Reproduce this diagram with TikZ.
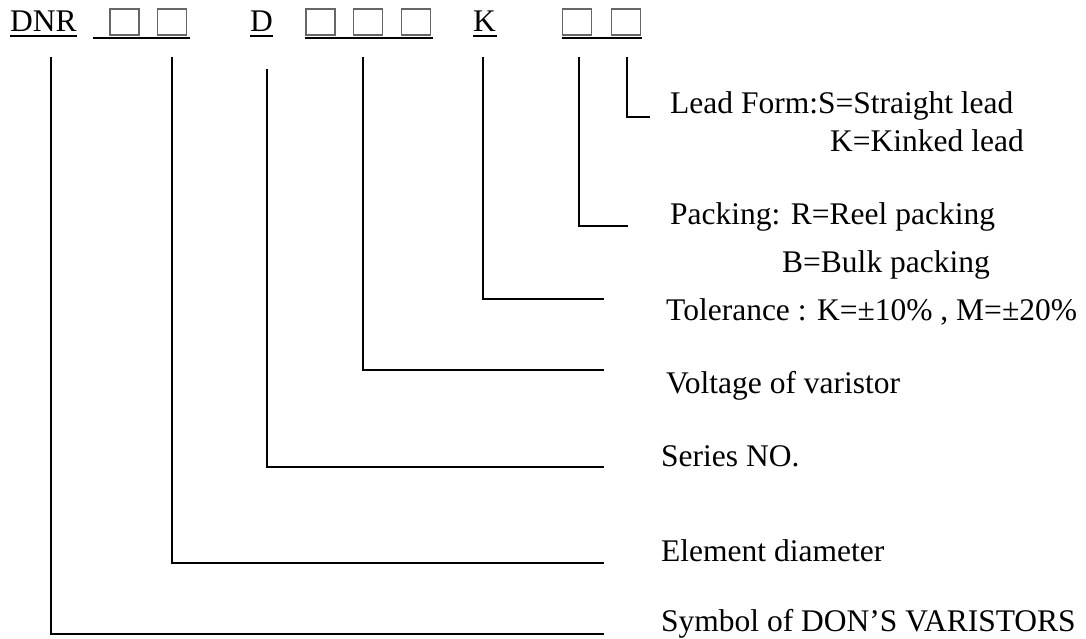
\documentclass[tikz,border=0pt]{standalone}
\usepackage{fontspec}
\setmainfont{Liberation Serif}
\begin{document}
\begin{tikzpicture}[x=1pt,y=-1pt,
  lbl/.style={anchor=base west, inner sep=0pt, font=\fontsize{31.5}{36}\selectfont},
  ln/.style={line width=1.6pt},
  ul/.style={line width=1.8pt},
  bx/.style={draw=black!60, line width=1.3pt, minimum width=29pt, minimum height=26pt, inner sep=0pt}]
\useasboundingbox (0,0) rectangle (1086,639);
% top row
\node[lbl] (dnr) at (10,32) {DNR};
\node[lbl] (dd) at (250,32) {D};
\node[lbl] (kk) at (473,32) {K};
\node[bx] (b1) at (124.5,22) {};
\node[bx] (b2) at (172,22) {};
\node[bx] (b3) at (320.5,22) {};
\node[bx] (b4) at (368,22) {};
\node[bx] (b5) at (416,22) {};
\node[bx] (b6) at (577,22) {};
\node[bx] (b7) at (626,22) {};
\draw[ul] (10,36) -- (77,36);
\draw[ul] (93,38) -- (190,38);
\draw[ul] (250,36) -- (273,36);
\draw[ul] (305,38) -- (433,38);
\draw[ul] (473,36) -- (497,36);
\draw[ul] (562,38) -- (642,38);
% labels
\node[lbl] (lead) at (670,114) {Lead Form:S=Straight lead};
\node[lbl] (kink) at (830,152) {K=Kinked lead};
\node[lbl] (pack) at (670,224) {Packing: R=Reel packing};
\node[lbl] (bulk) at (782,272) {B=Bulk packing};
\node[lbl] (tol) at (666,320) {Tolerance : K=±10\% , M=±20\%};
\node[lbl] (volt) at (666,393) {Voltage of varistor};
\node[lbl] (ser) at (661,466) {Series NO.};
\node[lbl] (ele) at (661,561) {Element diameter};
\node[lbl] (sym) at (661,631) {Symbol of DON’S VARISTORS};
% connector coordinates
\coordinate (t1) at (51,57);   \coordinate (e1) at (604,634);
\coordinate (t2) at (172,57);  \coordinate (e2) at (604,563);
\coordinate (t3) at (267,69);  \coordinate (e3) at (604,467);
\coordinate (t4) at (363,57);  \coordinate (e4) at (604,370);
\coordinate (t5) at (483,57);  \coordinate (e5) at (604,299);
\coordinate (t6) at (579,57);  \coordinate (e6) at (628,226);
\coordinate (t7) at (627,57);  \coordinate (e7) at (650,117);
\draw[ln] (t1) |- (e1);
\draw[ln] (t2) |- (e2);
\draw[ln] (t3) |- (e3);
\draw[ln] (t4) |- (e4);
\draw[ln] (t5) |- (e5);
\draw[ln] (t6) |- (e6);
\draw[ln] (t7) |- (e7);
\end{tikzpicture}
\end{document}
